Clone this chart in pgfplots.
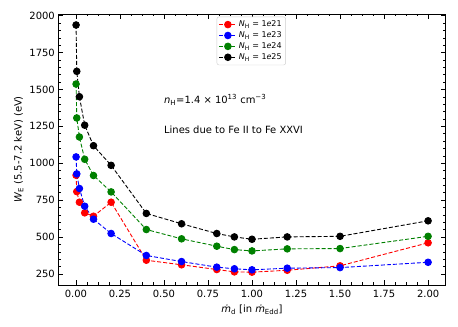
\documentclass[border=0pt]{standalone}
\usepackage{fontspec}
\setmainfont{DejaVu Sans}
\usepackage{pgfplots}
\pgfplotsset{compat=1.18}
\definecolor{mplgreen}{HTML}{008000}

\begin{document}
\begin{tikzpicture}
\begin{axis}[
  scale only axis,
  width=387.5bp, height=271bp,
  xmin=-0.1, xmax=2.1, ymin=175.5, ymax=2011.5,
  xtick={0,0.25,0.5,0.75,1,1.25,1.5,1.75,2},
  ytick={250,500,750,1000,1250,1500,1750,2000},
  minor x tick num=3, minor y tick num=4,
  tick align=inside,
  major tick length=5bp, minor tick length=2.5bp,
  every tick/.style={black, line width=0.6pt},
  axis line style={line width=0.8pt},
  /pgf/number format/assume math mode=true,
  ticklabel style={font=\fontsize{10}{12}\selectfont},
  xticklabel style={yshift=-1.5bp, /pgf/number format/fixed, /pgf/number format/fixed zerofill, /pgf/number format/precision=2},
  yticklabel style={/pgf/number format/1000 sep={}},
  label style={font=\fontsize{11}{13}\selectfont},
  every axis x label/.style={at={(axis description cs:0.5,0)}, yshift=-25bp, anchor=center},
  every axis y label/.style={at={(axis description cs:-0.102,0.5)}, rotate=90, anchor=center},
  xlabel={\textit{\.{m}}\textsubscript{d} [in \textit{\.{m}}\textsubscript{Edd}]},
  ylabel={\textit{W}\textsubscript{E} (5.5-7.2 keV) (eV)},
  legend style={at={(0.409,0.99)}, anchor=north west, font=\fontsize{8}{9.5}\selectfont,
    draw=black!20, rounded corners=2pt, row sep=-0.5pt, inner sep=2pt},
  legend cell align=left,
  every axis plot/.append style={dash pattern=on 4bp off 2bp, line width=0.9pt, mark=*, mark size=3.3bp, mark options={solid}},
]
\addplot[red] coordinates {(0.001,919) (0.005,808) (0.02,736) (0.05,664) (0.1,641) (0.2,736) (0.4,343) (0.6,312) (0.8,280) (0.9,264) (1.0,262) (1.2,275) (1.5,305) (2.0,461)};
\addlegendentry{\textit{N}\textsubscript{H} = 1\textit{e}21}
\addplot[blue] coordinates {(0.001,1043) (0.005,928) (0.02,829) (0.05,709) (0.1,621) (0.2,524) (0.4,375) (0.6,334) (0.8,296) (0.9,285) (1.0,278) (1.2,289) (1.5,293) (2.0,329)};
\addlegendentry{\textit{N}\textsubscript{H} = 1\textit{e}23}
\addplot[mplgreen] coordinates {(0.001,1537) (0.005,1307) (0.02,1178) (0.05,1027) (0.1,917) (0.2,806) (0.4,551) (0.6,488) (0.8,438) (0.9,415) (1.0,406) (1.2,420) (1.5,422) (2.0,505)};
\addlegendentry{\textit{N}\textsubscript{H} = 1\textit{e}24}
\addplot[black] coordinates {(0.001,1937) (0.005,1623) (0.02,1451) (0.05,1258) (0.1,1119) (0.2,986) (0.4,660) (0.6,590) (0.8,524) (0.9,501) (1.0,485) (1.2,501) (1.5,505) (2.0,610)};
\addlegendentry{\textit{N}\textsubscript{H} = 1\textit{e}25}
\node[anchor=west, inner sep=0pt, font=\fontsize{10}{12}\selectfont] at (axis cs:0.5,1429) {\textit{n}\textsubscript{H}=1.4 × 10\textsuperscript{13} cm\textsuperscript{−3}};
\node[anchor=west, inner sep=0pt, font=\fontsize{10}{12}\selectfont] at (axis cs:0.5,1226) {Lines due to Fe II to Fe XXVI};
\end{axis}
\pgfresetboundingbox
\path (-58.3bp,-42bp) rectangle (399.8bp,285bp);
\end{tikzpicture}
\end{document}
